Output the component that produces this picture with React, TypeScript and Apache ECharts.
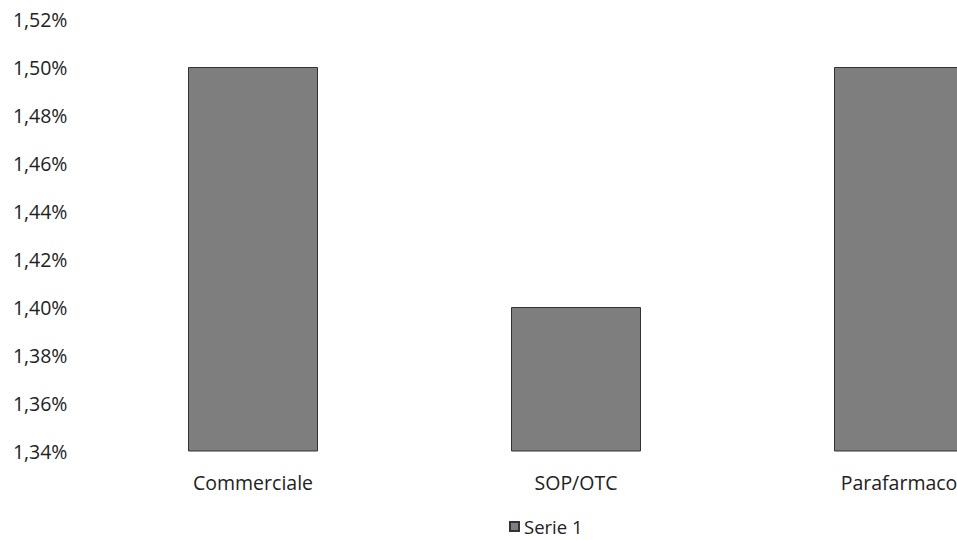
import React, { useEffect, useRef } from "react";
import * as echarts from "echarts";

const categories = ["Commerciale", "SOP/OTC", "Parafarmaco"];
const serie1 = [1.5, 1.4, 1.5];
const seriesName = "Serie 1";
const yMin = 1.34;
const yMax = 1.52;
const yStep = 0.02;

export default function App() {
  const ref = useRef<HTMLDivElement>(null);
  useEffect(() => {
    if (!ref.current) return;
    const chart = echarts.init(ref.current, null, { renderer: "svg" });
    const font = "'Open Sans', Lato, sans-serif";
    chart.setOption({
      animation: false,
      backgroundColor: "#ffffff",
      textStyle: { fontFamily: font },
      grid: {
        left: 91.5,
        top: 19,
        width: 969,
        height: 432,
        containLabel: false,
        outerBoundsMode: "none",
      },
      legend: {
        data: [seriesName],
        top: 517,
        left: 509,
        padding: 0,
        icon: "rect",
        itemWidth: 9,
        itemHeight: 9,
        itemGap: 6,
        textStyle: { fontFamily: font, fontSize: 18.5, lineHeight: 18, color: "#222" },
      },
      xAxis: {
        type: "category",
        data: categories,
        axisLine: { show: false },
        axisTick: { show: false },
        axisLabel: { margin: 21, fontSize: 19.5, color: "#222", fontFamily: font },
      },
      yAxis: {
        type: "value",
        min: yMin,
        max: yMax,
        interval: yStep,
        splitLine: { show: false },
        axisLine: { show: false },
        axisTick: { show: false },
        axisLabel: {
          margin: 24,
          fontSize: 19.5,
          color: "#222",
          fontFamily: font,
          formatter: (v: number) => v.toFixed(2).replace(".", ",") + "%",
        },
      },
      series: [
        {
          name: seriesName,
          type: "bar",
          data: serie1,
          barWidth: 130,
          itemStyle: { color: "#7e7e7e", borderColor: "#333", borderWidth: 1 },
        },
      ],
    });
    return () => chart.dispose();
  }, []);
  return (
    <div
      style={{
        position: "absolute",
        left: 0,
        top: 0,
        width: 957,
        height: 540,
        overflow: "hidden",
      }}
    >
      <div ref={ref} style={{ width: 1080, height: 540 }} />
    </div>
  );
}
